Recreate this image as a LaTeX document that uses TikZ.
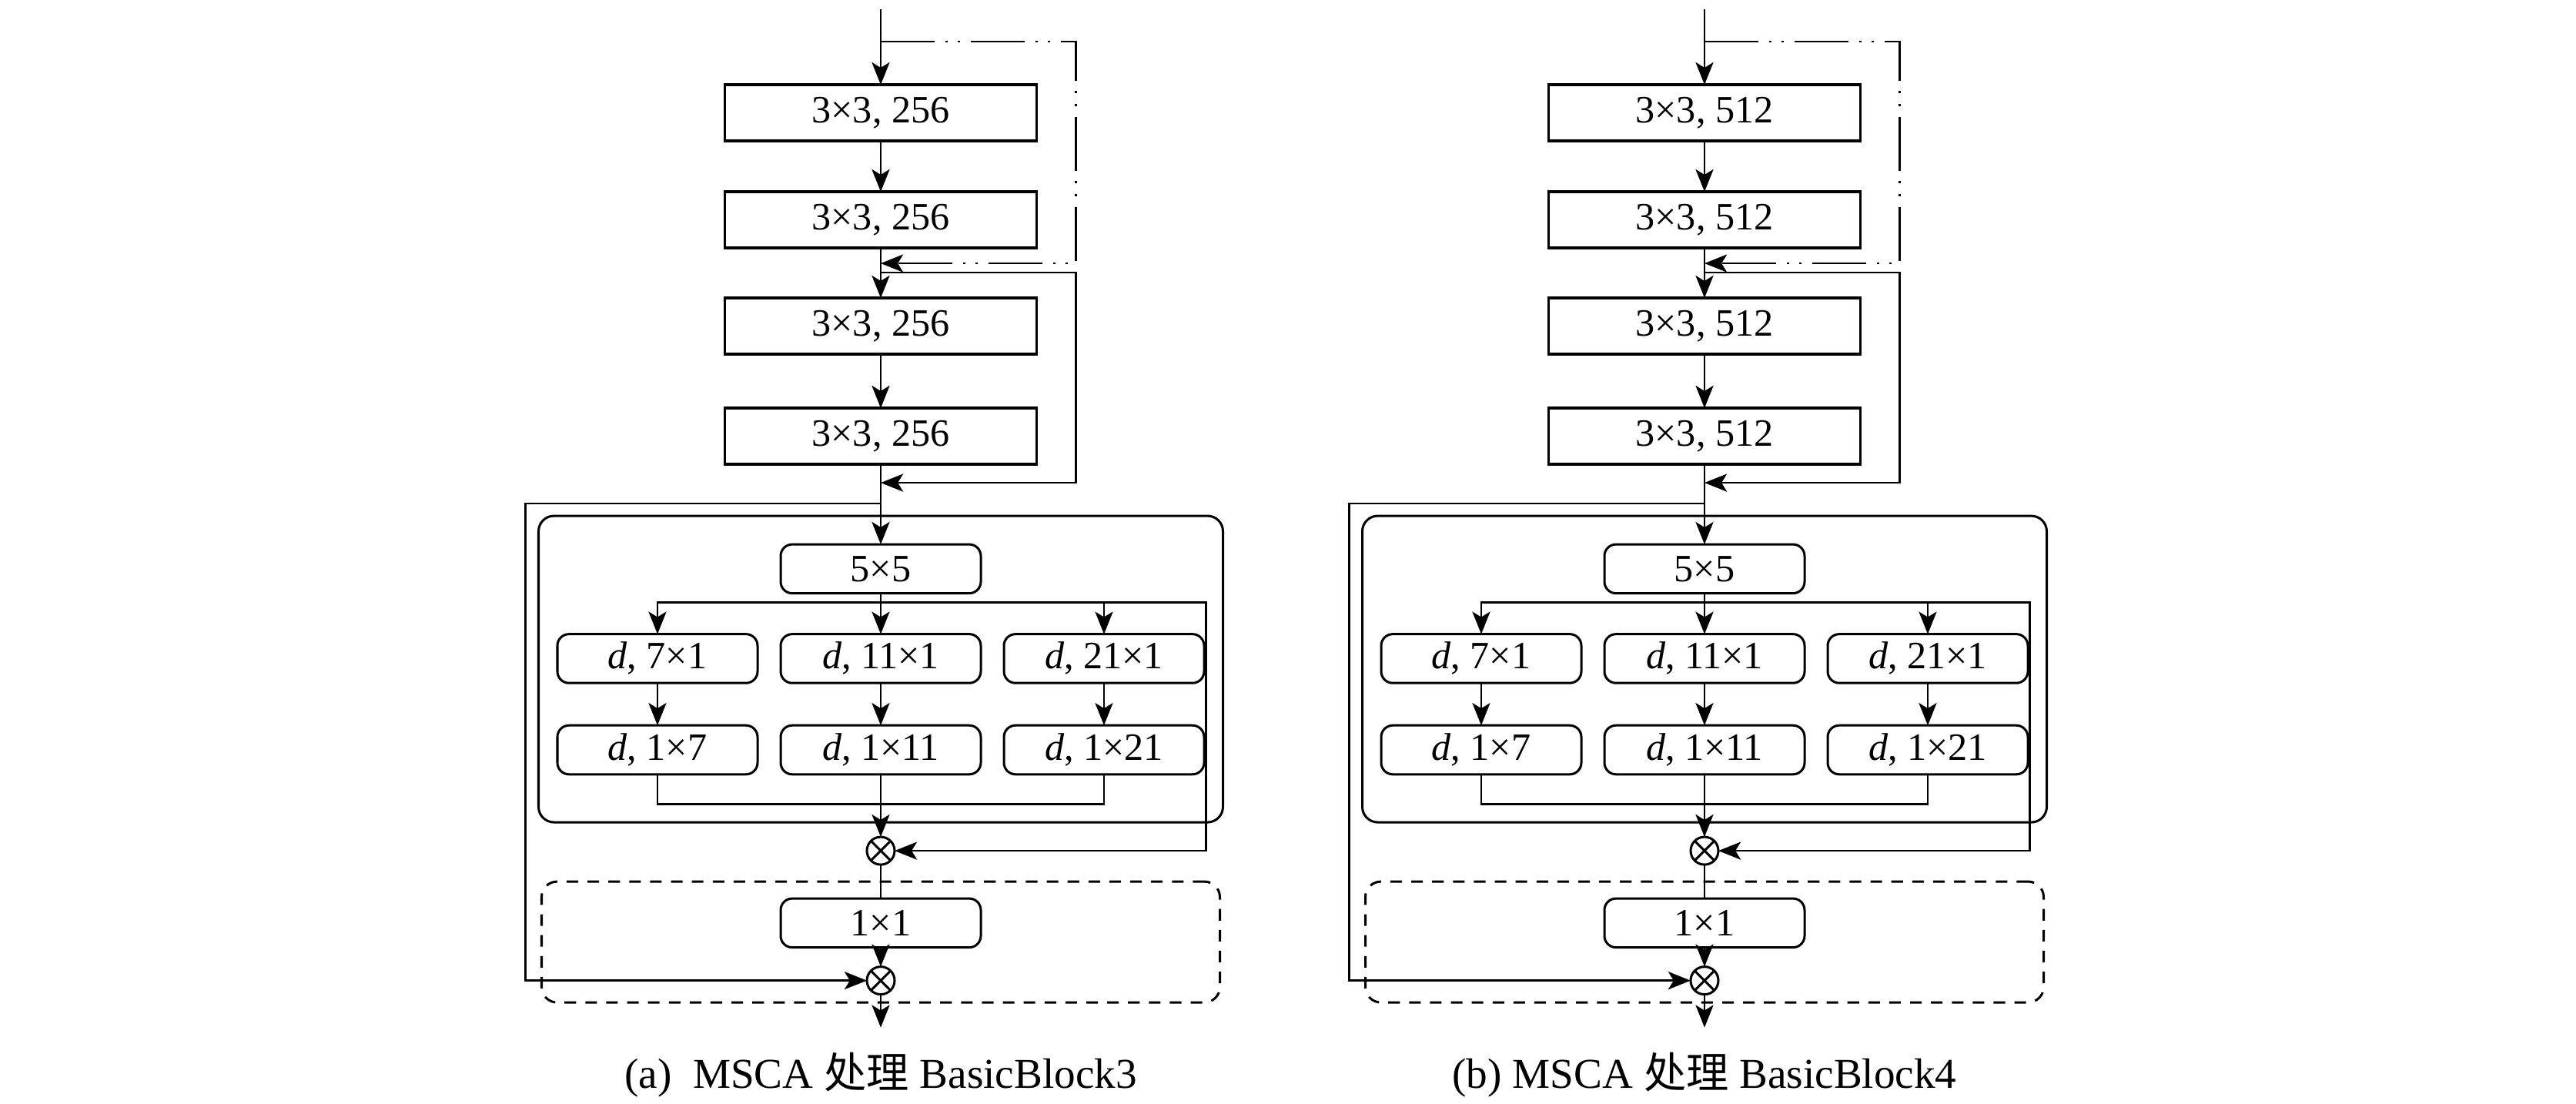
\documentclass[tikz,border=0pt]{standalone}
\usepackage{fontspec}
\setmainfont{Liberation Serif}
\newfontfamily\cjk{Noto Sans CJK SC}
\usepackage{tikz}
\usetikzlibrary{arrows.meta,positioning,calc}

\begin{document}
\begin{tikzpicture}[
  x=1mm, y=1mm,
  font=\fontsize{10}{12}\selectfont,
  conv/.style={draw, line width=0.66pt, minimum width=28.35mm, minimum height=5.11mm, inner sep=0pt, outer sep=0pt},
  rbox/.style={draw, rounded corners=3pt, line width=0.6pt, minimum width=18.2mm, minimum height=4.45mm, inner sep=0pt, outer sep=0pt},
  outer/.style={draw, rounded corners=4pt, line width=0.6pt, minimum width=62.23mm, minimum height=27.86mm, inner sep=0pt, outer sep=0pt},
  pwbox/.style={draw, rounded corners=4pt, line width=0.6pt, dash pattern=on 3pt off 2.4pt, minimum width=61.67mm, minimum height=10.99mm, inner sep=0pt, outer sep=0pt},
  mult/.style={draw, circle, line width=0.6pt, minimum size=2.52mm, inner sep=0pt, outer sep=0pt,
    path picture={\draw[line width=0.6pt] (path picture bounding box.north west) -- (path picture bounding box.south east)
      (path picture bounding box.north east) -- (path picture bounding box.south west);}},
  tip/.tip={Stealth[length=5.8pt, width=4.6pt, inset=1.4pt]},
  arrow/.style={-tip, line width=0.53pt},
  plain/.style={line width=0.53pt},
  ddot/.style={-tip, line width=0.53pt, dash pattern=on 14pt off 2.7pt on 0.6pt off 2.7pt on 0.6pt off 2.7pt},
  captext/.style={font=\fontsize{11}{13}\selectfont}
]
\useasboundingbox (0,0) rectangle (234.22,-100.38);

% --- (a) BasicBlock3 : residual stack -----------------------------------------
\node[conv] (c1a) at (80.08,-10.26) {3×3, 256};
\node[conv, below=4.62mm of c1a] (c2a) {3×3, 256};
\node[conv, below=4.55mm of c2a] (c3a) {3×3, 256};
\node[conv, below=4.9mm of c3a] (c4a) {3×3, 256};

\coordinate (ina) at ([yshift=6.86mm]c1a.north);
\coordinate (sdda) at ([yshift=3.92mm]c1a.north);
\coordinate (edda) at ([yshift=-1.4mm]c2a.south);
\coordinate (ssa) at ([yshift=-2.24mm]c2a.south);
\coordinate (esa) at ([yshift=-1.68mm]c4a.south);
\coordinate (bra) at ([yshift=-3.57mm]c4a.south);
\coordinate (rxa) at ([xshift=3.57mm]c1a.east);

% --- (a) MSCA block ------------------------------------------------------------
\node[outer, below=4.69mm of c4a] (msa) {};
\node[rbox, anchor=north] (k5a) at ([yshift=-2.59mm]msa.north) {5×5};
\node[rbox, below=3.71mm of k5a] (v2a) {\textit{d}, 11×1};
\node[rbox, left=2.1mm of v2a] (v1a) {\textit{d}, 7×1};
\node[rbox, right=2.1mm of v2a] (v3a) {\textit{d}, 21×1};
\node[rbox, below=3.85mm of v1a] (h1a) {\textit{d}, 1×7};
\node[rbox, below=3.85mm of v2a] (h2a) {\textit{d}, 1×11};
\node[rbox, below=3.85mm of v3a] (h3a) {\textit{d}, 1×21};
\node[mult, anchor=north] (m1a) at ([yshift=-1.33mm]msa.south) {};

\coordinate (spa) at ([yshift=-0.84mm]k5a.south);
\coordinate (rra) at ([xshift=-1.54mm]msa.east);
\coordinate (mga) at ([yshift=-2.73mm]h2a.south);
\coordinate (lxa) at ([xshift=-1.2mm]msa.west);

% --- (a) pointwise part --------------------------------------------------------
\node[pwbox, anchor=north] (pwa) at ([yshift=-5.39mm]msa.south) {};
\node[rbox, below=3.08mm of m1a] (k1a) {1×1};
\node[mult, below=1.75mm of k1a] (m2a) {};
\coordinate (outa) at ([yshift=-3.01mm]m2a.south);
\node[captext] (capa) at ([yshift=-4.34mm]outa) {(a)\ \ MSCA {\cjk 处理} BasicBlock3};

% --- (a) connectors ------------------------------------------------------------
\draw[arrow] (ina) -- (c1a);
\draw[arrow] (c1a) -- (c2a);
\draw[arrow] (c2a) -- (c3a);
\draw[arrow] (c3a) -- (c4a);
\draw[arrow] (c4a) -- (k5a);
\draw[ddot] (sdda) -| (rxa |- edda) -- (edda);
\draw[arrow] (ssa) -| (rxa |- esa) -- (esa);
\draw[arrow] (bra) -| (lxa |- m2a) -- (m2a);
\draw[arrow] (k5a) -- (v2a);
\draw[arrow] (spa) -| (v1a);
\draw[arrow] (spa) -| (v3a);
\draw[arrow] (spa) -| (rra |- m1a) -- (m1a);
\draw[arrow] (v1a) -- (h1a);
\draw[arrow] (v2a) -- (h2a);
\draw[arrow] (v3a) -- (h3a);
\draw[plain] (h1a) |- (mga) -| (h3a);
\draw[arrow] (h2a) -- (m1a);
\draw[plain] (m1a) -- (k1a);
\draw[arrow] (k1a) -- (m2a);
\draw[arrow] (m2a) -- (outa);

% --- (b) BasicBlock4 : residual stack -----------------------------------------
\node[conv] (c1b) at (154.98,-10.26) {3×3, 512};
\node[conv, below=4.62mm of c1b] (c2b) {3×3, 512};
\node[conv, below=4.55mm of c2b] (c3b) {3×3, 512};
\node[conv, below=4.9mm of c3b] (c4b) {3×3, 512};

\coordinate (inb) at ([yshift=6.86mm]c1b.north);
\coordinate (sddb) at ([yshift=3.92mm]c1b.north);
\coordinate (eddb) at ([yshift=-1.4mm]c2b.south);
\coordinate (ssb) at ([yshift=-2.24mm]c2b.south);
\coordinate (esb) at ([yshift=-1.68mm]c4b.south);
\coordinate (brb) at ([yshift=-3.57mm]c4b.south);
\coordinate (rxb) at ([xshift=3.57mm]c1b.east);

% --- (b) MSCA block ------------------------------------------------------------
\node[outer, below=4.69mm of c4b] (msb) {};
\node[rbox, anchor=north] (k5b) at ([yshift=-2.59mm]msb.north) {5×5};
\node[rbox, below=3.71mm of k5b] (v2b) {\textit{d}, 11×1};
\node[rbox, left=2.1mm of v2b] (v1b) {\textit{d}, 7×1};
\node[rbox, right=2.1mm of v2b] (v3b) {\textit{d}, 21×1};
\node[rbox, below=3.85mm of v1b] (h1b) {\textit{d}, 1×7};
\node[rbox, below=3.85mm of v2b] (h2b) {\textit{d}, 1×11};
\node[rbox, below=3.85mm of v3b] (h3b) {\textit{d}, 1×21};
\node[mult, anchor=north] (m1b) at ([yshift=-1.33mm]msb.south) {};

\coordinate (spb) at ([yshift=-0.84mm]k5b.south);
\coordinate (rrb) at ([xshift=-1.54mm]msb.east);
\coordinate (mgb) at ([yshift=-2.73mm]h2b.south);
\coordinate (lxb) at ([xshift=-1.2mm]msb.west);

% --- (b) pointwise part --------------------------------------------------------
\node[pwbox, anchor=north] (pwb) at ([yshift=-5.39mm]msb.south) {};
\node[rbox, below=3.08mm of m1b] (k1b) {1×1};
\node[mult, below=1.75mm of k1b] (m2b) {};
\coordinate (outb) at ([yshift=-3.01mm]m2b.south);
\node[captext] (capb) at ([yshift=-4.34mm]outb) {(b) MSCA {\cjk 处理} BasicBlock4};

% --- (b) connectors ------------------------------------------------------------
\draw[arrow] (inb) -- (c1b);
\draw[arrow] (c1b) -- (c2b);
\draw[arrow] (c2b) -- (c3b);
\draw[arrow] (c3b) -- (c4b);
\draw[arrow] (c4b) -- (k5b);
\draw[ddot] (sddb) -| (rxb |- eddb) -- (eddb);
\draw[arrow] (ssb) -| (rxb |- esb) -- (esb);
\draw[arrow] (brb) -| (lxb |- m2b) -- (m2b);
\draw[arrow] (k5b) -- (v2b);
\draw[arrow] (spb) -| (v1b);
\draw[arrow] (spb) -| (v3b);
\draw[arrow] (spb) -| (rrb |- m1b) -- (m1b);
\draw[arrow] (v1b) -- (h1b);
\draw[arrow] (v2b) -- (h2b);
\draw[arrow] (v3b) -- (h3b);
\draw[plain] (h1b) |- (mgb) -| (h3b);
\draw[arrow] (h2b) -- (m1b);
\draw[plain] (m1b) -- (k1b);
\draw[arrow] (k1b) -- (m2b);
\draw[arrow] (m2b) -- (outb);

\end{tikzpicture}
\end{document}
